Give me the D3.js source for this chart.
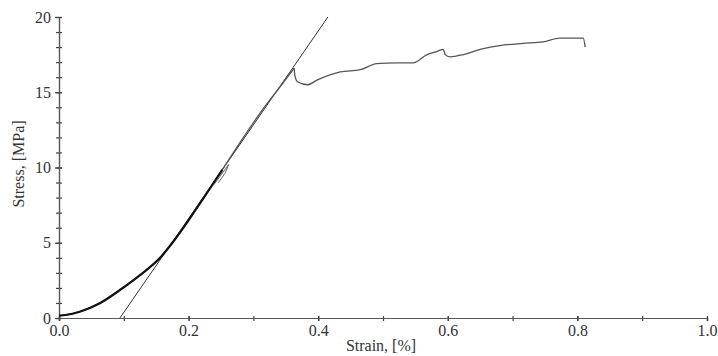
<!DOCTYPE html>
<html>
<head>
<meta charset="utf-8">
<script src="https://cdn.jsdelivr.net/npm/d3@7"></script>
<style>
  body { margin: 0; background: #fff; }
  text { font-family: "Liberation Serif", "DejaVu Serif", serif; fill: #333; }
</style>
</head>
<body>
<svg id="chart" width="718" height="356"></svg>
<script>
// loading part of the stress-strain curve (up to the peak)
const loadStrain = [0, 0.01, 0.032, 0.063, 0.094, 0.125, 0.156, 0.175, 0.2, 0.225, 0.252, 0.28, 0.31, 0.34, 0.363];
const loadStress = [0.15, 0.2, 0.42, 0.98, 1.86, 2.85, 4.0, 5.0, 6.5, 8.1, 9.85, 11.7, 13.6, 15.3, 16.6];
// after the peak
const yieldStrain = [0.363, 0.364, 0.368, 0.384, 0.398, 0.434, 0.465, 0.49, 0.52, 0.546, 0.568, 0.583, 0.593, 0.596,
                     0.603, 0.624, 0.65, 0.68, 0.716, 0.747, 0.773, 0.809, 0.812];
const yieldStress = [16.6, 16.1, 15.7, 15.5, 15.8, 16.35, 16.5, 16.9, 16.95, 16.95, 17.5, 17.7, 17.85, 17.5,
                     17.35, 17.5, 17.85, 18.1, 18.25, 18.35, 18.6, 18.6, 18.0];
// small unload / reload loop
const loopStrain = [0.238, 0.25, 0.262, 0.256, 0.246];
const loopStress = [8.8, 9.5, 10.2, 9.6, 9.0];
// elastic modulus line
const fitStrain = [0.094, 0.415];
const fitStress = [0, 20];

const xTicks = [0, 0.2, 0.4, 0.6, 0.8, 1.0];
const yTicks = [0, 5, 10, 15, 20];

const svg = d3.select("#chart");
const x = d3.scaleLinear().domain([0, 1]).range([59, 707]);
const y = d3.scaleLinear().domain([0, 20]).range([318, 17]);

const g = svg.append("g");

// axes
const yAxis = d3.axisLeft(y).tickValues(yTicks).tickFormat(d3.format("d")).tickSize(4).tickPadding(4);
const yMinor = d3.axisLeft(y).tickValues(d3.range(0, 21, 1)).tickFormat("").tickSize(3);
const xAxis = d3.axisBottom(x).tickValues(xTicks).tickFormat(d3.format(".1f")).tickSize(3).tickPadding(4);
const xMinor = d3.axisBottom(x).tickValues(d3.range(0, 1.01, 0.1)).tickFormat("").tickSize(3);

function styleAxis(sel) {
  sel.select(".domain").attr("stroke", "#555").attr("stroke-width", 1.2);
  sel.selectAll(".tick line").attr("stroke", "#444").attr("stroke-width", 1.2);
  sel.selectAll(".tick text").style("font-size", "16px").attr("fill", "#333");
}

g.append("g").attr("transform", "translate(59,0)").call(yMinor).call(styleAxis)
  .selectAll(".tick line").attr("x1", 3);
g.append("g").attr("transform", "translate(59,0)").call(yAxis).call(styleAxis)
  .selectAll(".tick line").attr("x1", 3);
g.append("g").attr("transform", "translate(0,318)").call(xMinor).call(styleAxis)
  .selectAll(".tick line").attr("y1", -2);
g.append("g").attr("transform", "translate(0,318)").call(xAxis).call(styleAxis)
  .selectAll(".tick line").attr("y1", -2);

// axis titles
g.append("text").attr("x", 381).attr("y", 351).attr("text-anchor", "middle")
  .style("font-size", "16px").text("Strain, [%]");
g.append("text").attr("transform", "translate(24,164) rotate(-90)").attr("text-anchor", "middle")
  .style("font-size", "16px").text("Stress, [MPa]");

const line = d3.line().x(d => x(d[0])).y(d => y(d[1]));
const smooth = d3.line().x(d => x(d[0])).y(d => y(d[1])).curve(d3.curveMonotoneX);
const loadPts = loadStrain.map((s, i) => [s, loadStress[i]]);
const yieldPts = yieldStrain.map((s, i) => [s, yieldStress[i]]);

// modulus line
g.append("path").datum(fitStrain.map((s, i) => [s, fitStress[i]]))
  .attr("d", line).attr("fill", "none").attr("stroke", "#333").attr("stroke-width", 1);

// curve: thin over the whole length, thick at the start
g.append("path").datum(loadPts).attr("d", smooth)
  .attr("fill", "none").attr("stroke", "#555").attr("stroke-width", 1.3);
g.append("path").datum(yieldPts).attr("d", smooth)
  .attr("fill", "none").attr("stroke", "#555").attr("stroke-width", 1.3);
g.append("path").datum(loadPts.filter(p => p[0] <= 0.252)).attr("d", smooth)
  .attr("fill", "none").attr("stroke", "#111").attr("stroke-width", 2.2);

g.append("path").datum(loopStrain.map((s, i) => [s, loopStress[i]]))
  .attr("d", line).attr("fill", "none").attr("stroke", "#666").attr("stroke-width", 1);
</script>
</body>
</html>
